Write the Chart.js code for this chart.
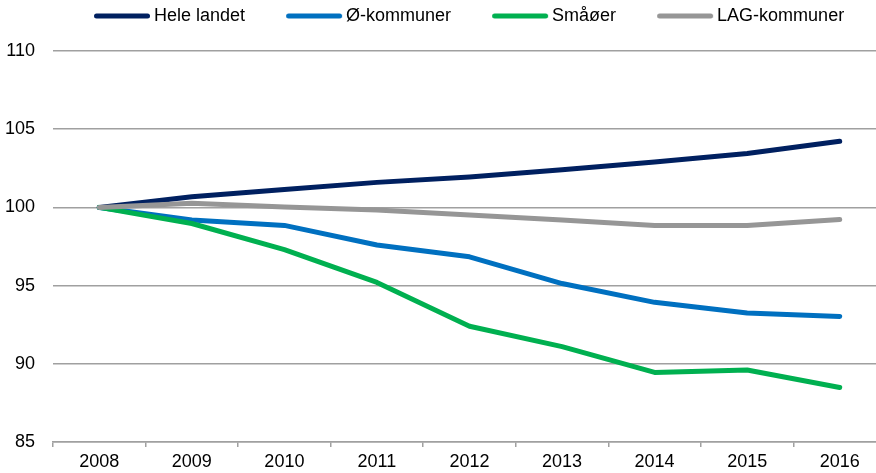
<!DOCTYPE html>
<html>
<head>
<meta charset="utf-8">
<script src="https://cdn.jsdelivr.net/npm/chart.js@4"></script>
<style>
  html, body { margin: 0; padding: 0; background: #fff; overflow: hidden; }
  #wrap { width: 886px; height: 473px; position: relative; }
</style>
</head>
<body>
<div id="wrap"><canvas id="myChart"></canvas></div>
<script>
var years = ['2008', '2009', '2010', '2011', '2012', '2013', '2014', '2015', '2016']
var heleLandet = [100, 100.68, 101.15, 101.6, 101.95, 102.4, 102.9, 103.45, 104.23]
var oKommuner = [100, 99.2, 98.85, 97.6, 96.84, 95.13, 93.93, 93.25, 93.03]
var smaaoer = [100, 98.97, 97.3, 95.2, 92.4, 91.1, 89.45, 89.6, 88.48]
var lagKommuner = [100, 100.26, 100.02, 99.83, 99.52, 99.19, 98.85, 98.85, 99.23]
var yMin = 85
var yMax = 110
var yStep = 5

var FONT = '"Liberation Sans", Arial, sans-serif'
var BOX = 85

/* legend marker: a short thick line that ends just before the label */
function legendLine(color) {
	var c = document.createElement('canvas')
	c.width = BOX + 18
	c.height = 8
	var g = c.getContext('2d')
	g.strokeStyle = color
	g.lineWidth = 5
	g.lineCap = 'round'
	g.beginPath()
	g.moveTo(c.width - 4 - 56 + 2.5, 4)
	g.lineTo(c.width - 4 - 2.5, 4)
	g.stroke()
	return c
}

function serie(label, data, color, order) {
	return {
		label: label,
		data: data,
		borderColor: color,
		backgroundColor: color,
		borderWidth: 5,
		borderCapStyle: 'round',
		borderJoinStyle: 'round',
		pointRadius: 0,
		pointHoverRadius: 0,
		pointStyle: legendLine(color),
		tension: 0,
		fill: false,
		order: order
	}
}

/* empty strip between legend and plot */
var legendGap = {
	id: 'legendGap',
	beforeInit: function(chart) {
		Chart.layouts.addBox(chart, {
			position: 'top',
			weight: 500,
			fullSize: false,
			options: {},
			isHorizontal: function() { return true },
			update: function(maxWidth) { this.width = maxWidth; this.height = 16 },
			draw: function() {}
		})
	}
}

var ctx = document.getElementById('myChart').getContext('2d')
var chart = new Chart(ctx, {
	type: 'line',
	data: {
		labels: years,
		datasets: [
			serie('Hele landet', heleLandet, '#002060', 3),
			serie('Ø-kommuner', oKommuner, '#0070c0', 2),
			serie('Småøer', smaaoer, '#00b050', 1),
			serie('LAG-kommuner', lagKommuner, '#969696', 0)
		]
	},
	plugins: [legendGap],
	options: {
		responsive: true,
		maintainAspectRatio: false,
		animation: false,
		layout: { padding: 0 },
		plugins: {
			tooltip: { enabled: false },
			legend: {
				position: 'top',
				align: 'start',
				fullSize: false,
				labels: {
					usePointStyle: true,
					pointStyleWidth: BOX,
					padding: 7,
					color: '#000',
					font: { family: FONT, size: 18 },
					sort: function(a, b) { return a.datasetIndex - b.datasetIndex }
				}
			}
		},
		scales: {
			x: {
				offset: true,
				afterFit: function(scale) { scale.height = 31 },
				grid: {
					offset: true,
					drawOnChartArea: false,
					drawTicks: true,
					tickLength: 5,
					color: '#a0a0a0',
					lineWidth: 1.5
				},
				border: { display: true, color: '#a0a0a0', width: 1.5 },
				ticks: {
					color: '#000',
					padding: 4,
					maxRotation: 0,
					font: { family: FONT, size: 18 }
				}
			},
			y: {
				min: yMin,
				max: yMax,
				afterFit: function(scale) { scale.width = 53 },
				grid: {
					color: '#a0a0a0',
					lineWidth: 1.5,
					drawTicks: false
				},
				border: { display: false },
				ticks: {
					stepSize: yStep,
					color: '#000',
					padding: 18,
					font: { family: FONT, size: 18 }
				}
			}
		}
	}
})
</script>
</body>
</html>
